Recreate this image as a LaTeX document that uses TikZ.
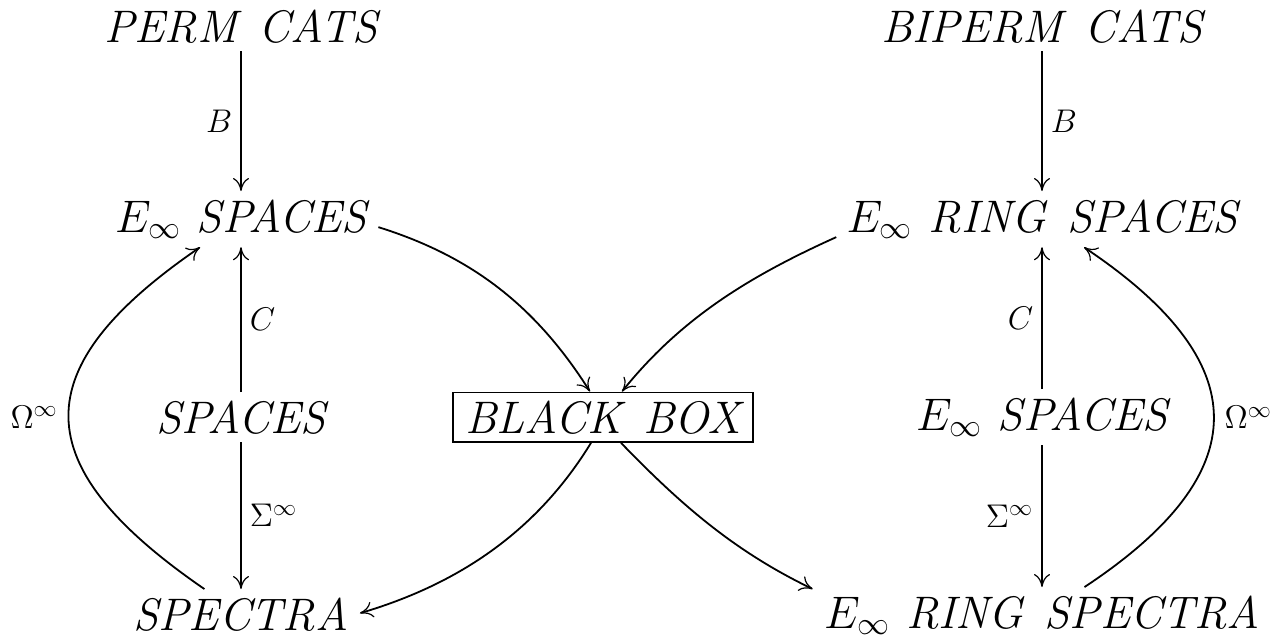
\RequirePackage{fix-cm}
\documentclass[tikz,border=0pt]{standalone}
\usetikzlibrary{arrows.meta}
% word gap used inside the object names
\newcommand{\wsp}{\ \hspace{.12em}}
\begin{document}
\begin{tikzpicture}[x=0.5pt,y=-0.5pt,
  obj/.style={anchor=base, inner sep=4pt, font=\fontsize{22.8}{27}\selectfont\itshape},
  lab/.style={inner sep=0pt, font=\fontsize{16.4}{19}\selectfont},
  arr/.style={line width=0.9pt,
    -{Computer Modern Rightarrow[length=6.5pt,width=8pt,line width=0.6pt]}},
]
\useasboundingbox[fill=white] (0,0) rectangle (1280,643);

% objects, left column
\node[obj] (perm)    at (241,42)  {PERM\wsp CATS};
\node[obj] (einfS)   at (241,232) {$E_\infty$ SPACES};
\node[obj] (spaces)  at (241,433) {SPACES};
\node[obj] (spectra) at (241,630) {SPECTRA};
% objects, right column
\node[obj] (biperm)  at (1042,42)  {BIPERM\wsp CATS};
\node[obj] (ringS)   at (1042,232) {$E_\infty$ RING\wsp SPACES};
\node[obj] (einfR)   at (1042,430) {$E_\infty$ SPACES};
\node[obj] (ringSp)  at (1042,628) {$E_\infty$ RING\wsp SPECTRA};
% the box in the middle
\node[obj, draw, line width=0.9pt, inner xsep=6pt, inner ysep=4pt] (bb) at (603,433) {BLACK\wsp BOX};

% vertical maps
\draw[arr] (perm)   -- node[lab, left=4pt]  {$B$} (einfS);
\draw[arr] (spaces) -- node[lab, right=4pt] {$C$} (einfS);
\draw[arr] (spaces) -- node[lab, right=4pt] {$\Sigma^\infty$} (spectra);
\draw[arr] (biperm) -- node[lab, right=4pt] {$B$} (ringS);
\draw[arr] (einfR)  -- node[lab, left=4pt]  {$C$} (ringS);
\draw[arr] (einfR)  -- node[lab, left=4pt]  {$\Sigma^\infty$} (ringSp);

% infinite loop space maps
\draw[arr] (spectra) .. controls (24,465) and (24,368) .. (einfS)
  node[lab, pos=0.5, left=5pt] {$\Omega^\infty$};
\draw[arr] (ringSp) .. controls (1257,473) and (1257,363) .. (ringS)
  node[lab, pos=0.5, right=5pt] {$\Omega^\infty$};

% into and out of the black box
\draw[arr] ([shift={(3,8)}]einfS.east) .. controls (474,257) and (537,308) .. ([shift={(-13,0)}]bb.north);
\draw[arr] ([shift={(-2,18)}]ringS.west) .. controls (750,276) and (681,318) .. ([shift={(19,0)}]bb.north);
\draw[arr] ([shift={(-12,0)}]bb.south) .. controls (537,531) and (459,584) .. ([shift={(3,-1)}]spectra.east);
\draw[arr] ([shift={(18,0)}]bb.south) .. controls (683,507) and (736,552) .. ([shift={(-3,2)}]ringSp.north west);
\end{tikzpicture}
\end{document}
